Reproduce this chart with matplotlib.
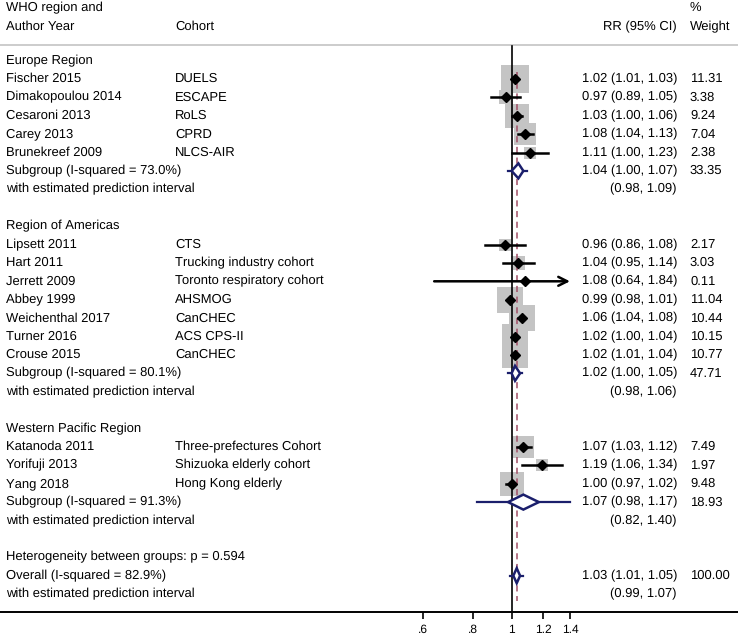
import numpy as np
import matplotlib
matplotlib.use("Agg")
import matplotlib.pyplot as plt
from matplotlib.transforms import blended_transform_factory
from matplotlib.patches import Polygon

plt.rcParams['font.family'] = ['Liberation Sans', 'DejaVu Sans']
plt.rcParams['text.hinting'] = 'no_hinting'
plt.rcParams['text.hinting_factor'] = 1

# ---------------- data ----------------
groups = ['Europe Region', 'Region of Americas', 'Western Pacific Region']

authors = [
    ['Fischer 2015', 'Dimakopoulou 2014', 'Cesaroni 2013', 'Carey 2013', 'Brunekreef 2009'],
    ['Lipsett 2011', 'Hart 2011', 'Jerrett 2009', 'Abbey 1999', 'Weichenthal 2017',
     'Turner 2016', 'Crouse 2015'],
    ['Katanoda 2011', 'Yorifuji 2013', 'Yang 2018'],
]
cohorts = [
    ['DUELS', 'ESCAPE', 'RoLS', 'CPRD', 'NLCS-AIR'],
    ['CTS', 'Trucking industry cohort', 'Toronto respiratory cohort', 'AHSMOG', 'CanCHEC',
     'ACS CPS-II', 'CanCHEC'],
    ['Three-prefectures Cohort', 'Shizuoka elderly cohort', 'Hong Kong elderly'],
]
rr = [
    [1.02, 0.97, 1.03, 1.08, 1.11],
    [0.96, 1.04, 1.08, 0.99, 1.06, 1.02, 1.02],
    [1.07, 1.19, 1.00],
]
lo = [
    [1.01, 0.89, 1.00, 1.04, 1.00],
    [0.86, 0.95, 0.64, 0.98, 1.04, 1.00, 1.01],
    [1.03, 1.06, 0.97],
]
hi = [
    [1.03, 1.05, 1.06, 1.13, 1.23],
    [1.08, 1.14, 1.84, 1.01, 1.08, 1.04, 1.04],
    [1.12, 1.34, 1.02],
]
weights = [
    [11.31, 3.38, 9.24, 7.04, 2.38],
    [2.17, 3.03, 0.11, 11.04, 10.44, 10.15, 10.77],
    [7.49, 1.97, 9.48],
]
sub_i2 = [73.0, 80.1, 91.3]
sub_rr = [1.04, 1.02, 1.07]
sub_lo = [1.00, 1.00, 0.98]
sub_hi = [1.07, 1.05, 1.17]
sub_w = [33.35, 47.71, 18.93]
sub_pi_lo = [0.98, 0.98, 0.82]
sub_pi_hi = [1.09, 1.06, 1.40]

het_p = 0.594
overall_i2 = 82.9
overall_rr, overall_lo, overall_hi = 1.03, 1.01, 1.05
overall_pi_lo, overall_pi_hi = 0.99, 1.07

xticks = [0.6, 0.8, 1.0, 1.2, 1.4]
xticklabels = ['.6', '.8', '1', '1.2', '1.4']

# ---------------- layout ----------------
W, H = 738, 640
axis_px = 612          # y pixel of the x-axis line
px_per_log = 173.5     # pixels per natural-log unit
x_one = 511.6          # pixel of RR = 1
row0, row_step = 60.5, 18.4
fs = 9.05

navy = '#1b1f6c'
dash_col = '#a04e66'
sq_col = '#c4c4c4'

fig = plt.figure(figsize=(W / 100, H / 100), dpi=100)
ax = fig.add_axes([0, (H - axis_px) / H, 1, axis_px / H])
ax.set_xscale('log')
ax.set_xlim(np.exp(-x_one / px_per_log), np.exp((W - x_one) / px_per_log))
ax.set_ylim(axis_px, 0)

tr = blended_transform_factory(ax.transAxes, ax.transData)


def txt(xpx, y, s, ha='left'):
    ax.text(xpx / W, y, s, transform=tr, ha=ha, va='center', fontsize=fs, color='black')


def rowy(i):
    return row0 + i * row_step


def rr_text(e, l, h):
    return '%.2f (%.2f, %.2f)' % (e, l, h)


x_auth, x_coh, x_rr_right, x_w = 6, 175, 677, 690

# headers
txt(x_auth, 8, 'WHO region and')
txt(x_auth, 26.5, 'Author Year')
txt(x_coh, 26.5, 'Cohort')
txt(x_rr_right, 26.5, 'RR (95% CI)', ha='right')
txt(x_w, 8, '%')
txt(x_w, 26.5, 'Weight')
ax.plot([0, 1], [45, 45], transform=tr, color='#c8c8c8', lw=1.3, clip_on=False)

# null line and overall dashed line
ax.plot([1, 1], [46, axis_px], color='black', lw=1.2, zorder=4)
ax.plot([overall_rr, overall_rr], [rowy(0.6), rowy(29.4)], color=dash_col, lw=1.1,
        ls=(0, (4, 3)), zorder=4)

half_d = 7.5  # half height of pooled diamonds


def pooled(y, e, l, h, pl, ph):
    ax.plot([pl, ph], [y, y], color=navy, lw=1.6, zorder=5)
    d = Polygon([[l, y], [e, y - half_d], [h, y], [e, y + half_d]], closed=True,
                facecolor='white', edgecolor=navy, lw=1.8, zorder=6)
    ax.add_patch(d)


xmin_plot, xmax_plot = 0.6, 1.4
i = 0
for g in range(len(groups)):
    txt(x_auth, rowy(i), groups[g])
    i += 1
    for k in range(len(authors[g])):
        y = rowy(i)
        txt(x_auth, y, authors[g][k])
        txt(x_coh, y, cohorts[g][k])
        txt(x_rr_right, y, rr_text(rr[g][k], lo[g][k], hi[g][k]), ha='right')
        txt(x_w, y, '%.2f' % weights[g][k])
        side = 8.03 * np.sqrt(weights[g][k]) * 0.72
        ax.plot(rr[g][k], y, marker='s', ms=side, color=sq_col, mew=0, ls='none', zorder=2)
        l, h = lo[g][k], hi[g][k]
        if h > xmax_plot:
            ax.annotate('', xy=(xmax_plot, y), xytext=(l, y),
                        arrowprops=dict(arrowstyle='->', color='black', lw=1.8,
                                        mutation_scale=16, shrinkA=0, shrinkB=0),
                        zorder=5)
        else:
            ax.plot([l, h], [y, y], color='black', lw=1.8, zorder=5)
        ax.plot(rr[g][k], y, marker='D', ms=4.8, color='black', ls='none', zorder=7)
        i += 1
    y = rowy(i)
    txt(x_auth, y, 'Subgroup (I-squared = %.1f%%)' % sub_i2[g])
    txt(x_rr_right, y, rr_text(sub_rr[g], sub_lo[g], sub_hi[g]), ha='right')
    txt(x_w, y, '%.2f' % sub_w[g])
    pooled(y, sub_rr[g], sub_lo[g], sub_hi[g], sub_pi_lo[g], sub_pi_hi[g])
    i += 1
    txt(x_auth, rowy(i), 'with estimated prediction interval')
    txt(x_rr_right, rowy(i), '(%.2f, %.2f)' % (sub_pi_lo[g], sub_pi_hi[g]), ha='right')
    i += 2

txt(x_auth, rowy(i), 'Heterogeneity between groups: p = %.3f' % het_p)
i += 1
y = rowy(i)
txt(x_auth, y, 'Overall (I-squared = %.1f%%)' % overall_i2)
txt(x_rr_right, y, rr_text(overall_rr, overall_lo, overall_hi), ha='right')
txt(x_w, y, '100.00')
pooled(y, overall_rr, overall_lo, overall_hi, overall_pi_lo, overall_pi_hi)
i += 1
txt(x_auth, rowy(i), 'with estimated prediction interval')
txt(x_rr_right, rowy(i), '(%.2f, %.2f)' % (overall_pi_lo, overall_pi_hi), ha='right')

# axis
for s in ['top', 'left', 'right']:
    ax.spines[s].set_visible(False)
ax.spines['bottom'].set_linewidth(1.4)
ax.set_yticks([])
ax.set_xticks(xticks)
ax.set_xticklabels(xticklabels)
ax.xaxis.set_minor_locator(matplotlib.ticker.NullLocator())
ax.tick_params(axis='x', direction='out', length=5, width=1.2, labelsize=fs - 0.3, pad=4)

fig.savefig('out.png', dpi=100)
